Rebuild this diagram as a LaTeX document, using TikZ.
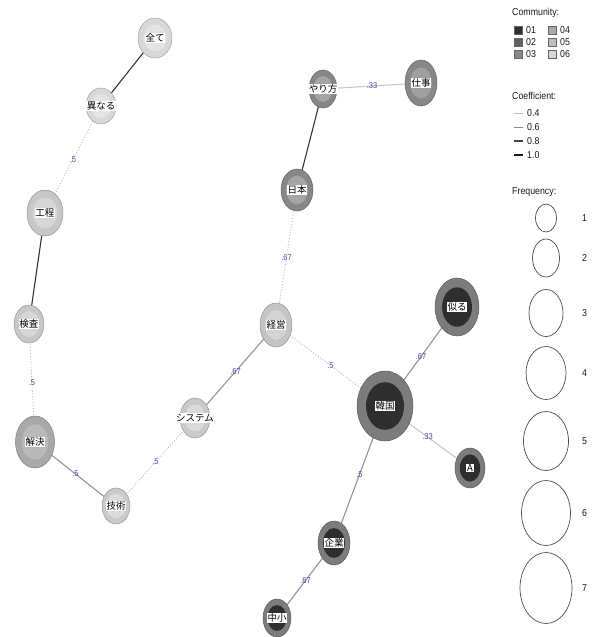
\documentclass[tikz,border=0pt]{standalone}
\usepackage{fontspec}
\setmainfont{Liberation Sans}
\newfontfamily\jpfont{Noto Sans CJK JP}
\newfontfamily\legfont[FakeStretch=0.88]{Liberation Sans}
\usetikzlibrary{shapes.geometric, backgrounds}

% Farben der Communities
\definecolor{c01}{HTML}{2E2E2E}
\definecolor{c02}{HTML}{606060}
\definecolor{c03}{HTML}{878787}
\definecolor{c04}{HTML}{A8A8A8}
\definecolor{c05}{HTML}{BDBDBD}
\definecolor{c06}{HTML}{D8D8D8}
\definecolor{ring01}{HTML}{7C7C7C}
\definecolor{gewichtblau}{HTML}{4646AA}

\setlength{\fboxsep}{0.7pt}

\begin{document}
\begin{tikzpicture}[x=1pt, y=-1pt,
    knoten/.style n args={4}{ellipse, draw=#1!75!black, line width=0.5pt, fill=#1, inner sep=0pt,
        minimum width=#3*2pt, minimum height=#4*2pt, font=\jpfont\fontsize{9.5}{9.5}\selectfont,
        path picture={\fill[#2] (path picture bounding box.center) ellipse [x radius=#3*0.68pt, y radius=#4*0.68pt];}},
    stark/.style={draw=black!80, line width=1.1pt},
    mittel/.style={draw=black!42, line width=1.1pt},
    schwach/.style={draw=black!22, line width=1.1pt},
    punkt/.style={draw=black!30, line width=0.9pt, dotted},
    gewicht/.style={font=\legfont\fontsize{8.5}{8.5}\selectfont, text=gewichtblau, inner sep=0.5pt},
    legtext/.style={font=\legfont\fontsize{10}{10}\selectfont, text=black!90, inner sep=0pt, anchor=west},
    kreis/.style={draw=black!70, line width=0.7pt}]

    \useasboundingbox (0,0) rectangle (597,637);

    % 1. Knoten (Wörter)
    \node[knoten={c06}{c06!70!white}{17}{20}] (zenbu) at (155,38) {\makebox[0pt]{\colorbox{white}{全て}}};
    \node[knoten={c06}{c06!70!white}{15}{18}] (kotonaru) at (101,106) {\makebox[0pt]{\colorbox{white}{異なる}}};
    \node[knoten={c05!85!white}{c05!60!white}{18}{23}] (koutei) at (45,213) {\makebox[0pt]{\colorbox{white}{工程}}};
    \node[knoten={c05!85!white}{c05!60!white}{15}{19}] (kensa) at (29,324) {\makebox[0pt]{\colorbox{white}{検査}}};
    \node[knoten={c04}{c04!80!white}{19.5}{26}] (kaiketsu) at (35,442) {\makebox[0pt]{\colorbox{white}{解決}}};
    \node[knoten={c05!80!white}{c05!55!white}{14}{18}] (gijutsu) at (116,506) {\makebox[0pt]{\colorbox{white}{技術}}};
    \node[knoten={c05!80!white}{c05!55!white}{15}{20}] (shisutemu) at (195,418) {\makebox[0pt]{\colorbox{white}{システム}}};
    \node[knoten={c05!90!white}{c05!65!white}{16}{22}] (keiei) at (276,325) {\makebox[0pt]{\colorbox{white}{経営}}};
    \node[knoten={c03}{c03!75!white}{16}{21}] (nihon) at (297,190) {\makebox[0pt]{\colorbox{white}{日本}}};
    \node[knoten={c03}{c03!75!white}{14}{19}] (yarikata) at (323,89) {\makebox[0pt]{\colorbox{white}{やり方}}};
    \node[knoten={c03}{c03!80!white}{16}{23}] (shigoto) at (421,83) {\makebox[0pt]{\colorbox{white}{仕事}}};
    \node[knoten={ring01}{c01}{28}{35}] (kankoku) at (385,406) {\makebox[0pt]{\colorbox{white}{韓国}}};
    \node[knoten={ring01}{c01}{22}{29}] (niru) at (457,307) {\makebox[0pt]{\colorbox{white}{似る}}};
    \node[knoten={ring01}{c01}{15}{20}] (a) at (470,468) {\makebox[0pt]{\colorbox{white}{A}}};
    \node[knoten={ring01}{c01}{16}{22}] (kigyou) at (334,543) {\makebox[0pt]{\colorbox{white}{企業}}};
    \node[knoten={ring01}{c01}{14}{19}] (chuushou) at (277,618) {\makebox[0pt]{\colorbox{white}{中小}}};

    % 2. Kanten mit Koeffizienten (unter den Knoten)
    \begin{scope}[on background layer]
        \draw[stark] (zenbu.center) -- (kotonaru.center);
        \draw[punkt] (kotonaru.center) -- (koutei.center) node[midway, gewicht] {.5};
        \draw[stark] (koutei.center) -- (kensa.center);
        \draw[punkt] (kensa.center) -- (kaiketsu.center) node[midway, gewicht] {.5};
        \draw[mittel] (kaiketsu.center) -- (gijutsu.center) node[midway, gewicht] {.5};
        \draw[punkt] (gijutsu.center) -- (shisutemu.center) node[midway, gewicht] {.5};
        \draw[mittel] (shisutemu.center) -- (keiei.center) node[midway, gewicht] {.67};
        \draw[punkt] (keiei.center) -- (nihon.center) node[midway, gewicht] {.67};
        \draw[stark] (nihon.center) -- (yarikata.center);
        \draw[schwach] (yarikata.center) -- (shigoto.center) node[midway, gewicht] {.33};
        \draw[punkt] (keiei.center) -- (kankoku.center) node[midway, gewicht] {.5};
        \draw[mittel] (kankoku.center) -- (niru.center) node[midway, gewicht] {.67};
        \draw[schwach] (kankoku.center) -- (a.center) node[midway, gewicht] {.33};
        \draw[mittel] (kankoku.center) -- (kigyou.center) node[midway, gewicht] {.5};
        \draw[mittel] (kigyou.center) -- (chuushou.center) node[midway, gewicht] {.67};
    \end{scope}

    % 3. Legende: Community
    \node[legtext] (legcom) at (512,13) {Community:};
    \draw[draw=black!60, fill=c01] (514,26) rectangle (522,34);
    \node[legtext] (leg01) at (526,30) {01};
    \draw[draw=black!60, fill=c02] (514,38) rectangle (522,46);
    \node[legtext] (leg02) at (526,42) {02};
    \draw[draw=black!60, fill=c03] (514,50) rectangle (522,58);
    \node[legtext] (leg03) at (526,54) {03};
    \draw[draw=black!60, fill=c04] (548,26) rectangle (556,34);
    \node[legtext] (leg04) at (560,30) {04};
    \draw[draw=black!60, fill=c05] (548,38) rectangle (556,46);
    \node[legtext] (leg05) at (560,42) {05};
    \draw[draw=black!60, fill=c06] (548,50) rectangle (556,58);
    \node[legtext] (leg06) at (560,54) {06};

    % Legende: Coefficient
    \node[legtext] (legcoef) at (512,96) {Coefficient:};
    \draw[draw=black!25, line width=1pt] (514,113) -- (523,113);
    \node[legtext] (leg04c) at (527,113) {0.4};
    \draw[draw=black!45, line width=1pt] (514,127) -- (523,127);
    \node[legtext] (leg06c) at (527,127) {0.6};
    \draw[draw=black!75, line width=1.2pt] (514,141) -- (523,141);
    \node[legtext] (leg08c) at (527,141) {0.8};
    \draw[draw=black!90, line width=1.5pt] (514,155) -- (523,155);
    \node[legtext] (leg10c) at (527,155) {1.0};

    % Legende: Frequency
    \node[legtext] (legfreq) at (512,192) {Frequency:};
    \draw[kreis] (546,218) ellipse [x radius=10.5, y radius=14];
    \node[legtext] (legf1) at (582,218) {1};
    \draw[kreis] (546,258) ellipse [x radius=13.5, y radius=19];
    \node[legtext] (legf2) at (582,258) {2};
    \draw[kreis] (546,313) ellipse [x radius=17, y radius=23.5];
    \node[legtext] (legf3) at (582,313) {3};
    \draw[kreis] (546,373) ellipse [x radius=20, y radius=26.5];
    \node[legtext] (legf4) at (582,373) {4};
    \draw[kreis] (546,441) ellipse [x radius=22.5, y radius=29.5];
    \node[legtext] (legf5) at (582,441) {5};
    \draw[kreis] (546,513) ellipse [x radius=24.5, y radius=32.5];
    \node[legtext] (legf6) at (582,513) {6};
    \draw[kreis] (546,588) ellipse [x radius=26, y radius=35.5];
    \node[legtext] (legf7) at (582,588) {7};

\end{tikzpicture}
\end{document}
